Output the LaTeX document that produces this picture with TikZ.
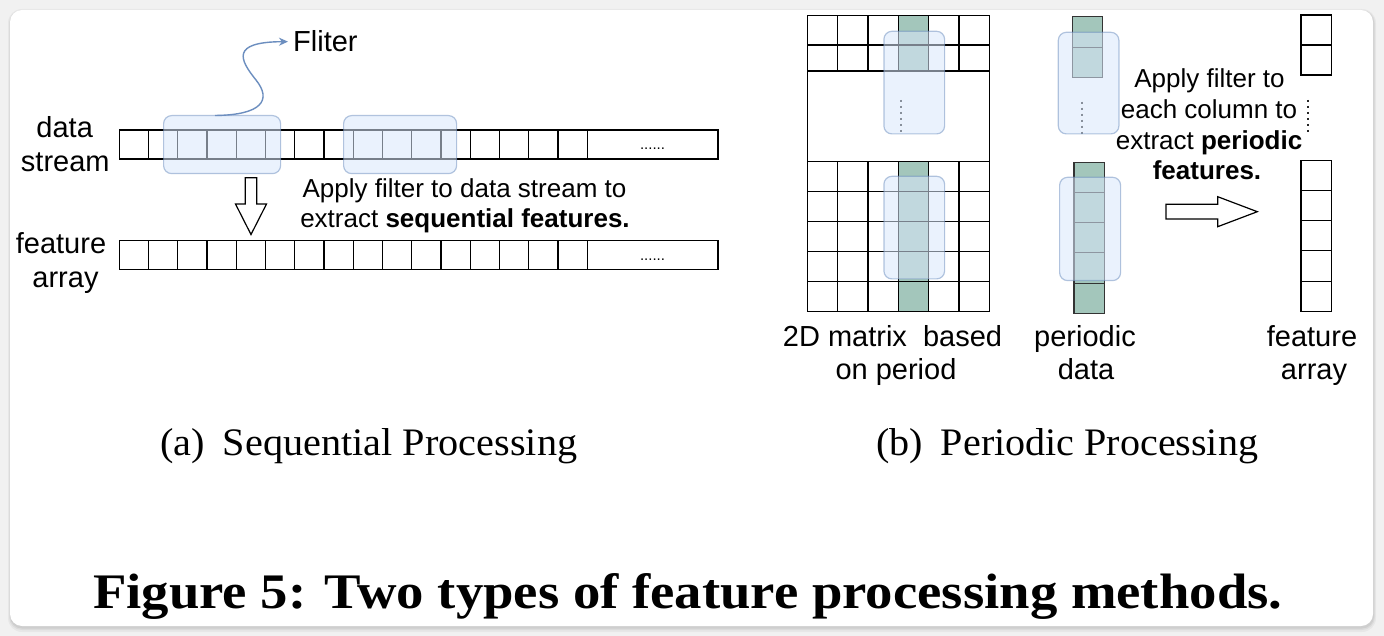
\documentclass[tikz,border=0pt]{standalone}
\usepackage{fontspec}
\setmainfont{Liberation Sans}
\newfontfamily\capfont{Liberation Serif}
\usetikzlibrary{arrows.meta}
\definecolor{hlfill}{HTML}{DAE8FC}
\definecolor{hldraw}{HTML}{6C8EBF}
\definecolor{grn}{HTML}{A3C6BB}
\definecolor{cardbg}{HTML}{F1F1F1}
\begin{document}
\begin{tikzpicture}[x=1pt,y=-1pt,
  gridline/.style={draw=black, line width=1.2pt},
  pgrid/.style={draw=black!80, line width=1.2pt},
  hl/.style={draw=hldraw, draw opacity=0.5, fill=hlfill, fill opacity=0.55, line width=1.2pt, rounded corners=8pt},
  blk/.style={draw=black, fill=white, line width=1.2pt, line join=miter},
  dotline/.style={draw=black!85, line width=2.2pt, dash pattern=on 2.2pt off 3.8pt},
  fcurve/.style={draw=hldraw, line width=1.4pt, -{Stealth[length=9pt,width=8pt]}},
  lbl/.style={font=\fontsize{29}{35}\selectfont, inner sep=0, anchor=base},
  desc/.style={font=\fontsize{26}{30}\selectfont, inner sep=0, anchor=base},
  dotsn/.style={font=\fontsize{15}{15}\selectfont, inner sep=0, anchor=base},
  capn/.style={inner sep=0, anchor=base west}]
\useasboundingbox (0,0) rectangle (1384,636);
% card
\fill[cardbg] (0,0) rectangle (1384,636);
\fill[black, opacity=0.04, rounded corners=14pt] (8,9) rectangle (1376,632);
\fill[black, opacity=0.05, rounded corners=13pt] (9,10) rectangle (1375,630);
\fill[black, opacity=0.06, rounded corners=12pt] (10,11) rectangle (1374,628.5);
\fill[white, rounded corners=12pt] (10,10) rectangle (1373,626);

% ---------- (a) sequential ----------
\foreach \i in {0,...,16} {
  \draw[gridline] ({119.3+29.25*\i},130) -- ({119.3+29.25*\i},159);
  \draw[gridline] ({119.3+29.25*\i},240.7) -- ({119.3+29.25*\i},269.7);
}
\draw[gridline] (119.3,130) rectangle (718,159);
\draw[gridline] (119.3,240.7) rectangle (718,269.7);
\node[dotsn] (sdots) at (652.5,150) {......};
\node[dotsn] (fdots) at (652.5,261) {......};

\node[hl, minimum width=117pt, minimum height=58pt, anchor=north west] (hlA) at (163,115) {};
\node[hl, minimum width=113pt, minimum height=58pt, anchor=north west] (hlB) at (343,115) {};

\node[lbl, anchor=base west] (fl) at (293,52) {Fliter};
\coordinate (fs) at (215,115.5);
\draw[fcurve] (fs) .. controls (262,115) and (272,100) .. (256,80)
  .. controls (240,60) and (230,42) .. ([xshift=-5pt]fl.west);

\draw[blk] (245.2,177.7) -- (256.8,177.7) -- (256.8,204) -- (266.5,204) -- (251,234.5)
  -- (235.5,204) -- (245.2,204) -- cycle;

\node[lbl] (ds1) at (64.7,138) {data};
\node[lbl] (ds2) at (65.3,172) {stream};
\node[lbl] (fa1) at (61,254) {feature};
\node[lbl] (fa2) at (65.5,288) {array};

\node[desc] (da1) at (464.5,198) {Apply filter to data stream to};
\node[desc] (da2) at (465,228) {extract \textbf{sequential features.}};

% ---------- (b) periodic ----------
% matrix
\fill[grn] (898.3,15.7) rectangle (928.7,71);
\fill[grn] (898.3,161.7) rectangle (928.7,311.7);
\foreach \j in {1,...,5} {
  \draw[gridline] ({807.3+30.33*\j},15.7) -- ({807.3+30.33*\j},71);
  \draw[gridline] ({807.3+30.33*\j},161.7) -- ({807.3+30.33*\j},311.7);
}
\foreach \y in {45,71,161.7,191.7,221.7,251.7,281.7} {
  \draw[gridline] (807.3,\y) -- (989.3,\y);
}
\draw[gridline] (807.3,15.7) rectangle (989.3,311.7);
\draw[dotline] (901,100) -- (901,135);

% periodic data
\fill[grn] (1072.7,16.7) rectangle (1102.7,77.3);
\draw[pgrid] (1072.7,16.7) rectangle (1102.7,77.3);
\draw[pgrid] (1072.7,47.3) -- (1102.7,47.3);
\fill[grn] (1074,162.3) rectangle (1104.3,313.3);
\draw[pgrid] (1074,162.3) rectangle (1104.3,313.3);
\foreach \y in {192.3,222.3,252.3,283.3} {
  \draw[pgrid] (1074,\y) -- (1104.3,\y);
}
\draw[dotline] (1082.3,101.7) -- (1082.3,136.7);

% highlight boxes
\node[hl, minimum width=60.7pt, minimum height=102.6pt, anchor=north west] (hlM1) at (883.3,30.7) {};
\node[hl, minimum width=60.7pt, minimum height=102.6pt, anchor=north west] (hlM2) at (883.3,175.7) {};
\node[hl, minimum width=60.6pt, minimum height=101.6pt, anchor=north west] (hlP1) at (1057.7,31.7) {};
\node[hl, minimum width=61pt, minimum height=103.3pt, anchor=north west] (hlP2) at (1059,176.7) {};

% feature array (right)
\draw[gridline] (1301,15) rectangle (1331.7,75);
\draw[gridline] (1301,45) -- (1331.7,45);
\draw[gridline] (1301,160.7) rectangle (1331.7,311.7);
\foreach \y in {190.7,220.7,250.7,281.7} {
  \draw[gridline] (1301,\y) -- (1331.7,\y);
}
\draw[dotline] (1308,100) -- (1308,135);

% block arrow right
\draw[blk] (1166,204.3) -- (1217.7,204.3) -- (1217.7,196.7) -- (1257.3,211.7)
  -- (1217.7,226.7) -- (1217.7,219) -- (1166,219) -- cycle;

\node[desc] (db1) at (1209.5,88) {Apply filter to};
\node[desc] (db2) at (1209,119) {each column to};
\node[desc] (db3) at (1209,150) {extract \textbf{periodic}};
\node[desc] (db4) at (1207,180) {\textbf{features.}};

\node[lbl] (lm1) at (892.5,346) {2D matrix\ \ based};
\node[lbl] (lm2) at (896,379) {on period};
\node[lbl] (lp1) at (1085,346) {periodic};
\node[lbl] (lp2) at (1086,379) {data};
\node[lbl] (lf1) at (1312,346) {feature};
\node[lbl] (lf2) at (1314,379) {array};

% captions
\node[capn] (capa) at (160,455) {\resizebox{417pt}{27pt}{\capfont (a)\hspace{0.45em}Sequential Processing}};
\node[capn] (capb) at (876,455) {\resizebox{382pt}{27pt}{\capfont (b)\hspace{0.45em}Periodic Processing}};
\node[capn] (figcap) at (93,608) {\resizebox{1189pt}{35pt}{\capfont\bfseries Figure 5: Two types of feature processing methods.}};
\end{tikzpicture}
\end{document}
